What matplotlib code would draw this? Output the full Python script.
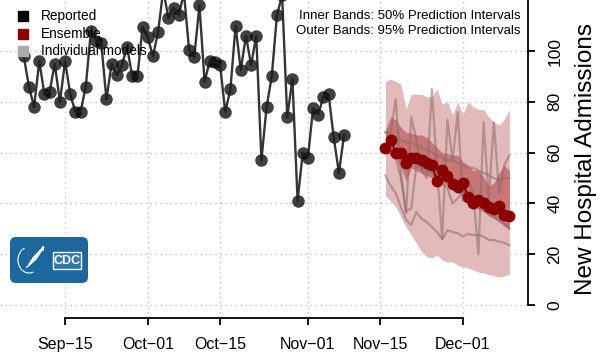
import numpy as np
import pandas as pd
import matplotlib
matplotlib.use('Agg')
import matplotlib.pyplot as plt
import matplotlib.dates as mdates
from matplotlib.patches import Rectangle, FancyBboxPatch, Arc

plt.rcParams['font.family'] = ['Liberation Sans', 'DejaVu Sans']

# reported daily admissions (values above 120 are cut off by the frame)
reported_dates = pd.date_range('2021-09-07', periods=63)
reported = [98, 86, 78, 96, 83, 84, 95, 80, 96, 83, 76, 76, 86, 108, 104, 103, 81, 95,
            90.5, 94.5, 101.6, 90, 90, 109.5, 105.5, 98, 107.5, 124, 113, 117, 114, 123,
            100.4, 97.6, 118, 88, 96, 95.7, 94.5, 76, 85, 110, 92.5, 106, 94.5, 106, 57,
            78, 90, 114, 122, 74, 89, 41, 60, 58, 77.5, 75, 82, 83, 66, 52, 67]

# forecast period
fc_dates = pd.date_range('2021-11-16', periods=25)
ensemble = [62, 65, 60, 60, 56, 58, 58, 57, 56, 55, 49, 53, 51, 47.6, 46.5, 48, 42.5, 40,
            41.3, 40, 38.6, 37.8, 39, 35.4, 35]
outer_hi = [88, 89, 88, 87, 77, 83, 83, 83, 82, 82, 85, 79, 80, 75, 80, 75, 80, 78, 77, 77,
            74, 72, 71, 73, 77]
outer_lo = [43, 41, 38.7, 34.6, 30.7, 27.6, 24.4, 21, 19, 18.5, 19.7, 17.7, 17, 17, 15.7, 15,
            14.6, 13.8, 13, 12.6, 12, 11.5, 11, 11.5, 12]
inner_hi = [69, 74, 73, 70, 68, 67.7, 67, 67, 66, 64, 62, 60, 59.6, 59, 59, 56.5, 55, 53, 53,
            50.6, 47, 48, 52, 55, 53]
inner_lo = [60, 59, 58, 54, 49, 54, 53, 52, 51, 50, 50, 49, 47, 46, 44, 43, 41, 40, 38, 37,
            35, 34, 33, 31, 30]

model_a = [68, 68, 81, 52, 36, 74, 65, 53, 50, 85, 53, 26, 73, 57, 76, 41, 50, 44, 20, 72,
           42, 72, 44, 55, 59]
model_b = [68, 67, 66, 65, 64, 64, 63, 62, 61, 60, 59, 58, 57, 57, 56, 55, 54, 54, 53, 52,
           51, 50, 49, 50, 50]
model_c = [62, 60, 58, 50, 37, 38, 55, 54, 53, 52, 50, 48, 46, 40, 42, 44, 42, 40, 38, 37,
           36, 35, 33, 32, 30]
model_d = [51, 47, 44, 38.6, 33.5, 31.5, 36.6, 34, 32.7, 30.7, 28.7, 26, 29.5, 28.7, 28.3,
           27, 28, 27.6, 27.6, 27, 25.6, 25.6, 25, 24.5, 23.6]

tick_dates = pd.to_datetime(['2021-09-15', '2021-10-01', '2021-10-15', '2021-11-01',
                             '2021-11-15', '2021-12-01'])
tick_labels = ['Sep\u221215', 'Oct\u221201', 'Oct\u221215', 'Nov\u221201', 'Nov\u221215', 'Dec\u221201']
y_ticks = [0, 20, 40, 60, 80, 100]

W, H = 616, 354
fig = plt.figure(figsize=(W / 100, H / 100), dpi=100)


def fx(px):
    return px / W


def fy(py):
    return 1 - py / H


tick_nums = mdates.date2num(tick_dates)

ax = fig.add_axes([0, fy(318), 528 / W, 318 / H])
ax.set_xlim(tick_nums[0] - 12.6, tick_nums[-1] + 12.6)
ax.set_ylim(-5.1, 120.1)

# grid
for d in tick_nums:
    ax.axvline(d, color='#bbbbbb', ls=(0, (1, 3)), lw=0.9, zorder=0)
for v in y_ticks:
    ax.axhline(v, color='#bbbbbb', ls=(0, (1, 3)), lw=0.9, zorder=0)

# bands
ax.fill_between(fc_dates, outer_lo, outer_hi, color='#e3baba', lw=0, zorder=1)
ax.fill_between(fc_dates, inner_lo, inner_hi, color='#c87676', lw=0, zorder=2)

for m in [model_a, model_b, model_c, model_d]:
    ax.plot(fc_dates, m, color='#8a6a6a', alpha=0.55, lw=1.6, zorder=3)

ax.plot(fc_dates, ensemble, color='#8b0000', lw=1.5, zorder=4)
ax.plot(fc_dates, ensemble, 'o', color='#8b0000', ms=8.5, mec='none', zorder=4)

ax.plot(reported_dates, reported, 'o', color='black', alpha=0.75, ms=9, mec='none', zorder=5)
ax.plot(reported_dates, reported, color='#1e1e1e', lw=1.7, alpha=0.9, zorder=6)

# axes in R style
for s in ['left', 'top']:
    ax.spines[s].set_visible(False)
ax.spines['bottom'].set_bounds(tick_nums[0], tick_nums[-1])
ax.spines['right'].set_bounds(0, 120.1)
for s in ['bottom', 'right']:
    ax.spines[s].set_linewidth(1.3)
ax.yaxis.tick_right()
ax.set_xticks(tick_nums)
ax.set_xticklabels(tick_labels, fontsize=11.5)
ax.set_yticks(y_ticks)
ax.set_yticklabels([str(v) for v in y_ticks], fontsize=12.5, rotation=90, va='center')
ax.tick_params(axis='x', length=5, width=1.3, pad=9)
ax.tick_params(axis='y', length=5, width=1.3, pad=9)
ax.yaxis.set_label_position('right')
ax.set_ylabel('New Hospital Admissions', fontsize=17.5, labelpad=9)
ax.patch.set_visible(False)

# legend
for i, (lab, col) in enumerate([('Reported', 'black'), ('Ensemble', '#8b0000'),
                                ('Individual models', '#aaaaaa')]):
    yc = 16 + i * 17.5
    fig.patches.append(Rectangle((fx(18), fy(yc + 5)), 10 / W, 10 / H, color=col,
                                 transform=fig.transFigure, zorder=10))
    fig.text(fx(41), fy(yc), lab, fontsize=9.8, va='center', ha='left', zorder=10)

fig.text(fx(521), fy(16), 'Inner Bands: 50% Prediction Intervals', fontsize=9.5,
         ha='right', va='center')
fig.text(fx(521), fy(31), 'Outer Bands: 95% Prediction Intervals', fontsize=9.5,
         ha='right', va='center')

# CDC logo
lg = fig.add_axes([fx(10), fy(283), 78 / W, 46 / H])
lg.set_xlim(0, 78)
lg.set_ylim(0, 46)
lg.axis('off')
lg.add_patch(FancyBboxPatch((0, 0), 78, 46, boxstyle='round,pad=0,rounding_size=6',
                            fc='#1c679e', ec='none'))
lg.add_patch(Rectangle((43, 14), 28, 17, fc='#2f77ad', ec='white', lw=1))
lg.text(57, 22.5, 'CDC', color='white', fontsize=9, fontweight='bold', ha='center', va='center')
lg.add_patch(Arc((19, 23), 22, 26, theta1=110, theta2=290, color='white', lw=0.8))
for k in range(4):
    lg.plot([17 + k * 2, 26 + k * 2.5, 33], [16 + k * 3, 24 + k * 4, 36 - k], color='white', lw=1.1)

fig.savefig('out.png', dpi=100)
